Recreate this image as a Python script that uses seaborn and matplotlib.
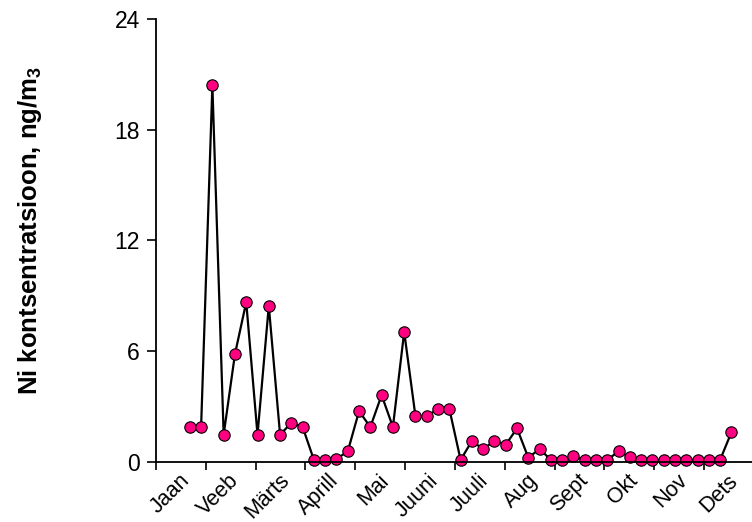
import numpy as np
import pandas as pd
import matplotlib
matplotlib.use("Agg")
import matplotlib.pyplot as plt
import matplotlib.transforms as mtransforms
import seaborn as sns

# Month names on the x axis
months = ["Jaan", "Veeb", "Märts", "Aprill", "Mai", "Juuni",
          "Juuli", "Aug", "Sept", "Okt", "Nov", "Dets"]

# Sampling week (counted from the start of the year) and weekly Ni concentration, ng/m3
weeks = [3, 4, 5, 6, 7, 8, 9, 10, 11, 12, 13, 14, 15, 16, 17, 18, 19,
         20, 21, 22, 23, 24, 25, 26, 27, 28, 29, 30, 31, 32, 33, 34, 35,
         36, 37, 38, 39, 40, 41, 42, 43, 44, 45, 46, 47, 48, 49, 50, 51]
ni_conc = [1.88, 1.88, 20.4, 1.46, 5.83, 8.65, 1.46, 8.45, 1.46, 2.11,
           1.88, 0.1, 0.1, 0.15, 0.56, 2.74, 1.88, 3.61, 1.88, 7.04,
           2.46, 2.46, 2.87, 2.87, 0.1, 1.12, 0.69, 1.12, 0.92, 1.81,
           0.22, 0.69, 0.1, 0.1, 0.29, 0.1, 0.1, 0.1, 0.56, 0.25,
           0.1, 0.1, 0.1, 0.1, 0.1, 0.1, 0.1, 0.1, 1.59]

y_ticks = [0, 6, 12, 18, 24]
weeks_in_year = 53

df = pd.DataFrame({"week": weeks, "ni": ni_conc})

sns.set_style("ticks")
plt.rcParams["font.family"] = ["Liberation Sans", "DejaVu Sans"]
plt.rcParams.update({
    "text.color": "black",
    "axes.labelcolor": "black",
    "xtick.color": "black",
    "ytick.color": "black",
    "mathtext.fontset": "custom",
    "mathtext.rm": "Liberation Sans",
    "mathtext.bf": "Liberation Sans:bold",
})

fig = plt.figure(figsize=(7.52, 5.22), dpi=100)
ax = fig.add_axes([0.2074, 0.1155, 0.7952, 0.8481])

sns.lineplot(data=df, x="week", y="ni", ax=ax, color="black", linewidth=1.6,
             marker="o", markersize=8.2, markerfacecolor="#ff0080",
             markeredgecolor="black", markeredgewidth=0.8, clip_on=False)

ax.set_xlim(0, weeks_in_year)
ax.set_ylim(0, 24)

# month boundaries as ticks, month names centred between them
month_len = weeks_in_year / len(months)
ax.set_xticks([k * month_len for k in range(len(months) + 1)])
ax.set_xticklabels([])
ax.set_xticks([(k + 0.5) * month_len for k in range(len(months))], minor=True)
ax.set_xticklabels(months, minor=True, rotation=45, ha="right",
                   rotation_mode="anchor", fontsize=15.5)
ax.tick_params(axis="x", which="minor", length=0, pad=6)
ax.tick_params(axis="x", which="major", length=6, width=1.2, direction="out")
shift = mtransforms.ScaledTranslation(-0.02, 0, fig.dpi_scale_trans)
for lbl in ax.get_xticklabels(minor=True):
    lbl.set_transform(lbl.get_transform() + shift)

ax.set_yticks(y_ticks)
ax.set_yticklabels([str(v) for v in y_ticks], fontsize=16.5)
ax.tick_params(axis="y", length=6.5, width=1.2, direction="out", pad=5)

ax.set_xlabel("")
ax.set_ylabel(r"Ni kontsentratsioon, ng/m$_\mathbf{3}$", fontsize=18.5,
              fontweight="bold")
ax.yaxis.set_label_coords(-0.187, 0.523)

sns.despine(ax=ax)
for s in ("left", "bottom"):
    ax.spines[s].set_linewidth(1.3)
    ax.spines[s].set_color("black")

fig.savefig("out.png", dpi=100)
